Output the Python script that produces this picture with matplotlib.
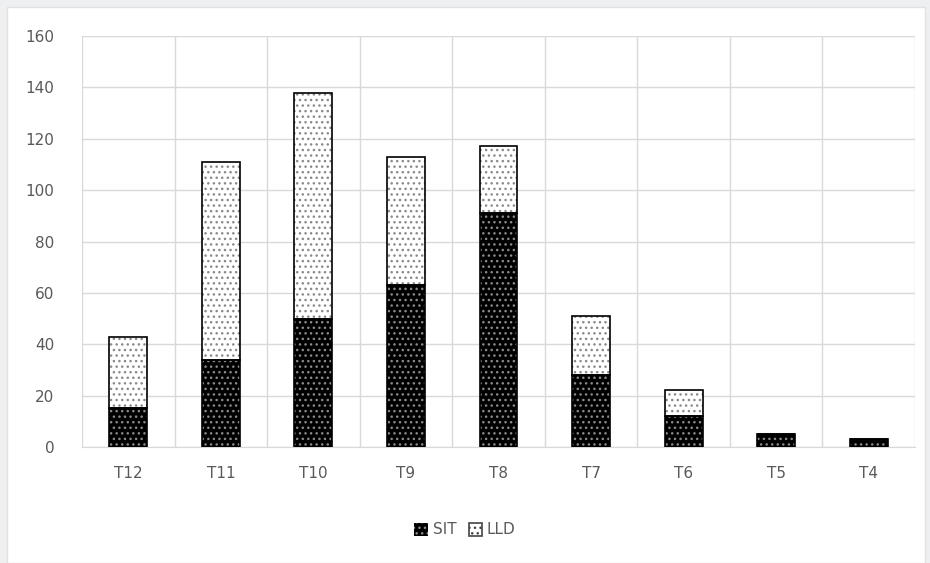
import numpy as np
import matplotlib.pyplot as plt
from matplotlib.patches import Rectangle, Patch

categories = ['T12', 'T11', 'T10', 'T9', 'T8', 'T7', 'T6', 'T5', 'T4']
sit = [15, 34, 50, 63, 91, 28, 12, 5, 3]
lld = [28, 77, 88, 50, 26, 23, 10, 0, 0]

fig = plt.figure(figsize=(9.3, 5.63), dpi=100)
fig.patch.set_facecolor('#eeeff1')
# white panel like the chart area of the source
fig.add_artist(Rectangle((7 / 930, 0), 918 / 930, 556 / 563, transform=fig.transFigure,
                         facecolor='white', edgecolor='#e2e2e2', lw=1, zorder=-10))

ax = fig.add_axes([82 / 930, 1 - 447 / 563, 833 / 930, 411 / 563])
ax.set_facecolor('none')

x = np.arange(len(categories))
w = 0.41
sit = np.array(sit)
lld = np.array(lld)

# filled bars with dot hatch, then black outlines on top
ax.bar(x, sit, w, color='black', edgecolor='#8a8a8a', hatch='...', lw=0, zorder=3)
ax.bar(x, lld, w, bottom=sit, color='white', edgecolor='#8a8a8a', hatch='...', lw=0, zorder=3)
ax.bar(x, sit, w, fill=False, edgecolor='black', lw=1.2, zorder=4)
ax.bar(x, lld, w, bottom=sit, fill=False, edgecolor='black', lw=1.2, zorder=4)

ax.set_xlim(-0.5, len(categories) - 0.5)
ax.set_ylim(0, 160)
ax.set_yticks(range(0, 161, 20))
ax.set_xticks(x)
ax.set_xticklabels(categories)
ax.set_xticks(np.arange(-0.5, len(categories), 1), minor=True)

ax.grid(axis='y', color='#d9d9d9', lw=1, zorder=0)
ax.grid(axis='x', which='minor', color='#d9d9d9', lw=1, zorder=0)
ax.grid(axis='x', which='major', visible=False)
for s in ['top', 'right', 'left']:
    ax.spines[s].set_visible(False)
ax.spines['bottom'].set_color('#d9d9d9')
ax.tick_params(which='both', length=0, colors='#595959', labelsize=11)
ax.tick_params(axis='x', pad=14)
ax.tick_params(axis='y', pad=20)

handles = [Patch(facecolor='black', edgecolor='#8a8a8a', hatch='...', lw=0),
           Patch(facecolor='white', edgecolor='#444444', hatch='...', lw=1.2)]
leg = fig.legend(handles, ['SIT', 'LLD'], loc='center', bbox_to_anchor=(0.5, 1 - 530 / 563),
                 ncol=2, frameon=False, handlelength=0.9, handleheight=0.9,
                 handletextpad=0.3, columnspacing=0.8, fontsize=11)
for t in leg.get_texts():
    t.set_color('#595959')

fig.savefig('out.png', dpi=100)
